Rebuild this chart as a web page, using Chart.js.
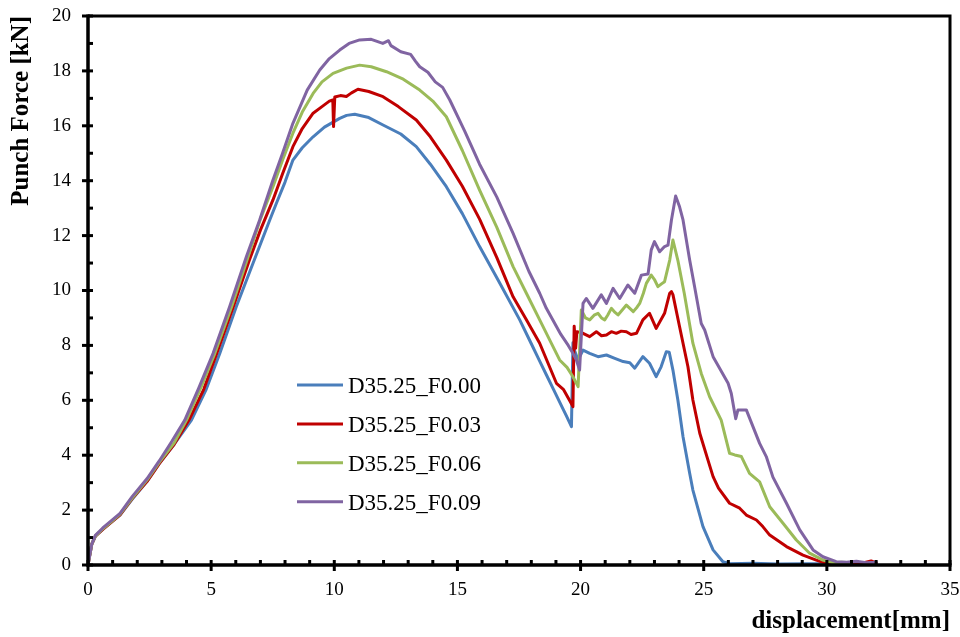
<!DOCTYPE html>
<html>
<head>
<meta charset="utf-8">
<script src="https://cdn.jsdelivr.net/npm/chart.js@4.4.1/dist/chart.umd.min.js"></script>
<style>
html,body{margin:0;padding:0;background:#fff;}
#c{display:block;}
</style>
</head>
<body>
<canvas id="c" width="960" height="637"></canvas>
<script>
// ---------- data ----------
const seriesLabels = ['D35.25_F0.00', 'D35.25_F0.03', 'D35.25_F0.06', 'D35.25_F0.09'];
const seriesColors = ['#4A7EBB', '#C00000', '#9BBB59', '#8064A2'];

const xTitle = 'displacement[mm]';
const yTitle = 'Punch Force [kN]';

const dispF000 = [0,0.15,0.3,0.6,1.0,1.3,1.8,2.4,2.9,3.5,4.2,4.8,5.35,6.02,6.7,7.38,7.65,8.0,8.32,8.7,9.14,9.6,10.22,10.5,10.83,11.4,11.98,12.7,13.33,13.9,14.55,15.2,15.9,16.7,17.53,18.0,18.34,18.61,18.9,19.28,19.42,19.63,19.69,19.76,19.9,20.1,20.37,20.71,21.05,21.39,21.73,22.0,22.2,22.53,22.8,23.07,23.27,23.48,23.6,23.75,23.95,24.16,24.43,24.56,24.97,25.38,25.78,26.05,27.0,28.0,29.0,30.0,30.5];
const forceF000 = [0,0.75,1.05,1.3,1.6,1.82,2.4,3.05,3.7,4.4,5.28,6.4,7.71,9.41,10.99,12.57,13.18,13.95,14.75,15.2,15.6,15.95,16.27,16.38,16.42,16.3,16.03,15.7,15.24,14.6,13.78,12.8,11.6,10.3,8.93,8.06,7.43,6.93,6.4,5.7,5.44,5.04,8.1,7.8,7.47,7.83,7.71,7.59,7.65,7.53,7.41,7.37,7.17,7.59,7.35,6.86,7.22,7.77,7.75,7.1,6.01,4.67,3.34,2.73,1.4,0.55,0.12,0.05,0.06,0.04,0.05,0.05,0.03];

const dispF003 = [0,0.15,0.3,0.6,1.0,1.3,1.8,2.4,2.9,3.5,4.1,4.7,5.23,5.9,6.55,7.0,7.51,7.9,8.32,8.7,9.14,9.5,9.8,9.94,9.97,10.02,10.25,10.49,10.7,10.96,11.4,11.98,12.6,13.33,13.9,14.55,15.2,15.9,16.6,17.26,17.8,18.34,19.02,19.3,19.55,19.69,19.74,19.8,19.85,20.1,20.37,20.64,20.85,21.05,21.25,21.45,21.65,21.86,22.05,22.27,22.53,22.8,23.07,23.41,23.62,23.69,23.75,24.02,24.36,24.56,24.84,25.17,25.38,25.6,26.05,26.46,26.73,27.14,27.4,27.68,28.36,29.03,29.57,30.0,30.5,31.0,31.5,31.8,32.0];
const forceF003 = [0,0.75,1.05,1.3,1.6,1.83,2.43,3.05,3.7,4.4,5.28,6.4,7.71,9.41,11.1,12.2,13.3,14.25,15.24,15.9,16.46,16.7,16.9,16.94,15.97,17.05,17.1,17.07,17.2,17.33,17.25,17.06,16.7,16.21,15.6,14.75,13.8,12.6,11.2,9.77,8.93,8.08,6.62,6.4,6.0,5.77,8.7,7.9,8.5,8.44,8.32,8.5,8.35,8.38,8.5,8.44,8.52,8.5,8.4,8.44,8.93,9.17,8.62,9.17,9.9,9.96,9.85,8.68,7.22,6.01,4.8,3.83,3.22,2.8,2.25,2.07,1.82,1.64,1.4,1.09,0.67,0.36,0.18,0.05,0.04,0.06,0.08,0.15,0.08];

const dispF006 = [0,0.15,0.3,0.6,1.0,1.3,1.8,2.4,2.9,3.5,4.0,4.6,5.15,5.83,6.5,7.0,7.51,7.9,8.32,8.7,9.14,9.5,9.95,10.5,11.03,11.5,12.12,12.8,13.47,14.0,14.55,15.2,15.9,16.6,17.26,17.8,18.34,18.8,19.15,19.45,19.69,19.9,20.03,20.2,20.37,20.55,20.71,20.85,20.98,21.1,21.25,21.4,21.52,21.7,21.86,22.0,22.14,22.3,22.4,22.55,22.67,22.87,23.0,23.14,23.3,23.41,23.62,23.75,23.95,24.21,24.56,24.9,25.24,25.71,26.05,26.26,26.53,26.86,27.27,27.68,28.22,28.76,29.3,29.84,30.25,30.6,31.0];
const forceF006 = [0,0.75,1.05,1.32,1.62,1.85,2.45,3.1,3.75,4.45,5.28,6.5,7.71,9.41,11.23,12.6,13.78,14.75,15.73,16.5,17.18,17.6,17.91,18.1,18.21,18.15,17.97,17.7,17.3,16.9,16.33,15.1,13.66,12.3,10.87,9.9,8.93,8.1,7.47,7.2,6.86,6.5,9.29,9.0,8.93,9.1,9.17,9.0,8.93,9.1,9.35,9.2,9.11,9.3,9.47,9.35,9.23,9.4,9.53,9.9,10.26,10.56,10.4,10.14,10.25,10.32,11.11,11.84,11.1,9.9,8.08,6.98,6.13,5.28,4.07,4.01,3.95,3.34,3.03,2.12,1.52,0.91,0.43,0.18,0.08,0.1,0.08];

const dispF009 = [0,0.15,0.3,0.6,1.0,1.3,1.8,2.4,2.9,3.4,3.93,4.5,5.08,5.75,6.43,6.97,7.5,7.9,8.32,8.9,9.41,9.8,10.22,10.6,11.03,11.5,11.97,12.2,12.3,12.7,13.1,13.3,13.47,13.8,14.1,14.4,14.69,15.3,15.9,16.6,17.26,17.9,18.34,18.61,19.2,19.5,19.69,19.83,19.96,20.1,20.23,20.5,20.84,21.05,21.32,21.59,21.92,22.2,22.47,22.74,22.87,23.0,23.21,23.41,23.55,23.69,23.86,24.02,24.16,24.43,24.63,24.9,25.04,25.38,25.99,26.12,26.26,26.3,26.39,26.73,27.27,27.54,27.81,28.36,28.9,29.44,29.84,30.38,30.8,31.2,31.6,32.0];
const forceF009 = [0,0.75,1.08,1.35,1.65,1.88,2.5,3.15,3.8,4.5,5.28,6.45,7.71,9.41,11.23,12.57,14.0,15.0,16.09,17.3,18.03,18.45,18.76,19.0,19.13,19.15,19.0,19.1,18.92,18.7,18.6,18.35,18.15,17.95,17.6,17.4,16.94,15.8,14.6,13.4,12.08,10.7,9.9,9.35,8.4,8.0,7.71,7.47,7.1,9.53,9.71,9.35,9.84,9.53,10.08,9.71,10.2,9.9,10.56,10.6,11.48,11.78,11.41,11.6,11.65,12.57,13.44,13.05,12.57,11.11,10.14,8.8,8.56,7.59,6.62,6.25,5.53,5.33,5.65,5.65,4.43,3.95,3.2,2.25,1.28,0.55,0.3,0.12,0.1,0.14,0.08,0.1];

const xMin = 0, xMax = 35, xStep = 5, xMinorStep = 1;
const yMin = 0, yMax = 20, yStep = 2, yMinorStep = 1;

// ---------- chart ----------
const serif = "'Liberation Serif', 'Times New Roman', serif";
const allDisp = [dispF000, dispF003, dispF006, dispF009];
const allForce = [forceF000, forceF003, forceF006, forceF009];

const datasets = seriesLabels.map((label, i) => ({
  label,
  data: allDisp[i].map((d, k) => ({x: d, y: allForce[i][k]})),
  borderColor: seriesColors[i],
  backgroundColor: seriesColors[i],
  borderWidth: 3,
  pointRadius: 0,
  tension: 0,
  fill: false,
  borderJoinStyle: 'round',
  borderCapStyle: 'round',
  order: seriesLabels.length - i
}));

const frameTicks = {
  id: 'frameTicks',
  afterDraw(chart) {
    const {ctx, chartArea: a, scales: {x, y}} = chart;
    ctx.save();
    ctx.strokeStyle = '#000';
    ctx.lineCap = 'butt';
    ctx.lineWidth = 3;
    ctx.beginPath();
    ctx.moveTo(a.left, a.top);
    ctx.lineTo(a.right, a.top);
    ctx.lineTo(a.right, a.bottom);
    ctx.stroke();
    ctx.lineWidth = 3.5;
    ctx.beginPath();
    ctx.moveTo(a.left, a.top - 1.5);
    ctx.lineTo(a.left, a.bottom);
    ctx.lineTo(a.right + 1.5, a.bottom);
    ctx.stroke();
    ctx.lineWidth = 3;
    for (let v = xMin; v <= xMax + 1e-9; v += xMinorStep) {
      const px = x.getPixelForValue(v);
      const major = Math.abs(v / xStep - Math.round(v / xStep)) < 1e-9;
      ctx.beginPath();
      ctx.moveTo(px, a.bottom - 5);
      ctx.lineTo(px, major ? a.bottom + 6 : a.bottom);
      ctx.stroke();
    }
    for (let v = yMin; v <= yMax + 1e-9; v += yMinorStep) {
      const py = y.getPixelForValue(v);
      const major = Math.abs(v / yStep - Math.round(v / yStep)) < 1e-9;
      ctx.beginPath();
      ctx.moveTo(major ? a.left - 6 : a.left, py);
      ctx.lineTo(a.left + 5, py);
      ctx.stroke();
    }
    ctx.restore();
  }
};

const innerLegend = {
  id: 'innerLegend',
  afterDraw(chart) {
    const {ctx} = chart;
    ctx.save();
    ctx.font = "23px " + serif;
    ctx.fillStyle = '#000';
    ctx.textBaseline = 'alphabetic';
    ctx.textAlign = 'left';
    const x0 = 297, x1 = 343, tx = 348, y0 = 385, dy = 38.9;
    chart.data.datasets.forEach((ds, i) => {
      const yy = y0 + i * dy;
      ctx.strokeStyle = ds.borderColor;
      ctx.lineWidth = 3;
      ctx.beginPath();
      ctx.moveTo(x0, yy);
      ctx.lineTo(x1, yy);
      ctx.stroke();
      ctx.fillText(ds.label, tx, yy + 8);
    });
    ctx.restore();
  }
};

new Chart(document.getElementById('c'), {
  type: 'line',
  data: {datasets},
  options: {
    responsive: false,
    animation: false,
    layout: {padding: {left: 0, right: 10, top: 16, bottom: 0}},
    plugins: {legend: {display: false}, tooltip: {enabled: false}},
    scales: {
      x: {
        type: 'linear',
        min: xMin, max: xMax,
        afterFit: s => { s.height = 72; s.paddingLeft = 0; s.paddingRight = 0; },
        grid: {display: false, drawTicks: false},
        border: {display: false},
        ticks: {stepSize: xStep, color: '#000', padding: 14, font: {family: serif, size: 19}},
        title: {display: true, text: xTitle, align: 'end', color: '#000',
                font: {family: serif, size: 25, weight: 'bold', lineHeight: 1.2},
                padding: {top: 0, bottom: 0}}
      },
      y: {
        type: 'linear',
        min: yMin, max: yMax,
        afterFit: s => { s.width = 88; s.paddingTop = 0; s.paddingBottom = 0; },
        grid: {display: false, drawTicks: false},
        border: {display: false},
        ticks: {stepSize: yStep, color: '#000', padding: 17, font: {family: serif, size: 19}},
        title: {display: true, text: yTitle, align: 'end', color: '#000',
                font: {family: serif, size: 25, weight: 'bold', lineHeight: 1.2},
                padding: {top: 7, bottom: 0}}
      }
    }
  },
  plugins: [frameTicks, innerLegend]
});
</script>
</body>
</html>
